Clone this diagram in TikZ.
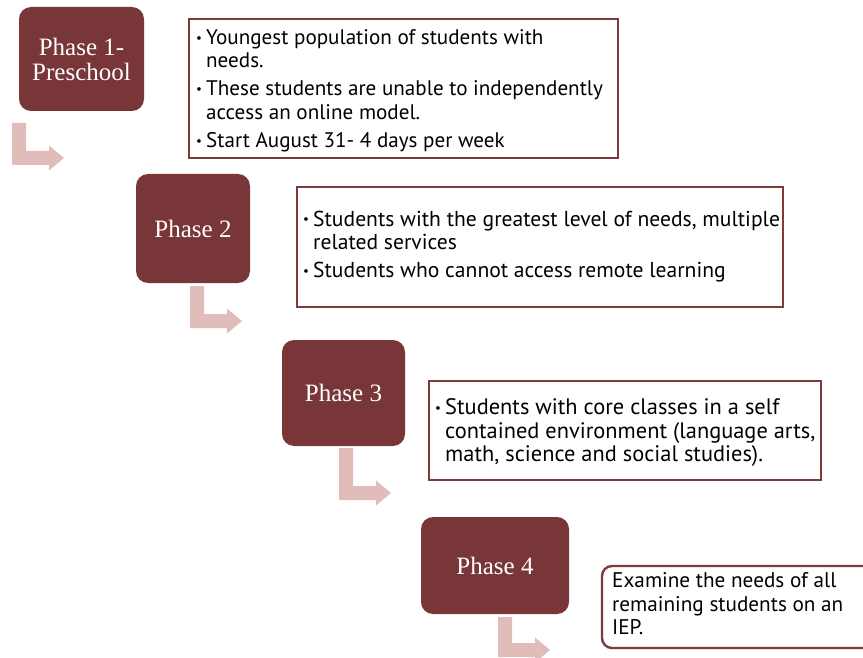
\documentclass[tikz,border=0pt]{standalone}
\usepackage{fontspec}
\setmainfont{Liberation Serif}
\newfontfamily\bodyfont{PT Sans}

\definecolor{phasefill}{RGB}{121,54,56}
\definecolor{framered}{RGB}{128,58,60}
\definecolor{bendpink}{RGB}{224,189,187}

% small bullet sitting at mid x-height, followed by the text column
\newcommand\bul{\makebox[10pt][l]{\raisebox{2pt}{\fontsize{13}{13}\selectfont •}}}

\begin{document}
\begin{tikzpicture}[x=1pt,y=-1pt,
  phase/.style={fill=phasefill, rounded corners=12pt, text=white,
    font=\fontsize{25}{25}\selectfont, align=center, inner sep=0pt},
  infobox/.style={draw=framered, line width=2.4pt, fill=white, inner sep=0pt},
  bodytext/.style={anchor=base west, inner sep=0pt,
    font=\bodyfont\fontsize{#1}{23.5}\selectfont},
  pics/bentarrow/.style={code={
    \fill[bendpink] (0,0) -- (14,0) -- (14,#1-14) -- (37,#1-14) -- (37,#1-19.5)
      -- (52,#1-7) -- (37,#1+5.5) -- (37,#1) -- (0,#1) -- cycle;}}]

\useasboundingbox (0,0) rectangle (863,658);
\clip (0,0) rectangle (863,658);

% phase blocks
\node[phase, minimum width=125pt, minimum height=104pt] (p1) at (81.5,59) {Phase 1-\\Preschool};
\node[phase, minimum width=114pt, minimum height=109pt] (p2) at (193,228.5) {Phase 2};
\node[phase, minimum width=123pt, minimum height=106pt] (p3) at (343.5,393) {Phase 3};
\node[phase, minimum width=148pt, minimum height=97pt] (p4) at (495,565.5) {Phase 4};

% bent arrows below each phase
\pic at (12,123) {bentarrow=42};
\pic at (190,286) {bentarrow=42};
\pic at (339,448) {bentarrow=52};
\pic at (498,617) {bentarrow=40};

% description frames
\node[infobox, minimum width=429pt, minimum height=139pt] (b1) at (403.5,88.5) {};
\node[infobox, minimum width=486pt, minimum height=120pt] (b2) at (540,247) {};
\node[infobox, minimum width=392pt, minimum height=99pt] (b3) at (625,430.5) {};
\node[infobox, rounded corners=10pt, minimum width=288pt, minimum height=82pt] (b4) at (746,607) {};

% description texts
\node[bodytext=21.1] (t1) at (196,44.3) {\begin{tabular}[t]{@{}l@{}l@{}}
\bul & Youngest population of students with\\
     & needs.\\[4.5pt]
\bul & These students are unable to independently\\
     & access an online model.\\[4.5pt]
\bul & Start August 31- 4 days per week
\end{tabular}};

\node[bodytext=21.6] (t2) at (303,226) {\begin{tabular}[t]{@{}l@{}l@{}}
\bul & Students with the greatest level of needs, multiple\\
     & related services\\[4.5pt]
\bul & Students who cannot access remote learning
\end{tabular}};

\node[bodytext=22.4] (t3) at (435,414.5) {\begin{tabular}[t]{@{}l@{}l@{}}
\bul & Students with core classes in a self\\
     & contained environment (language arts,\\
     & math, science and social studies).
\end{tabular}};

\node[bodytext=21.2] (t4) at (612,587.5) {\begin{tabular}[t]{@{}l@{}}
Examine the needs of all\\
remaining students on an\\
IEP.
\end{tabular}};

\end{tikzpicture}
\end{document}
